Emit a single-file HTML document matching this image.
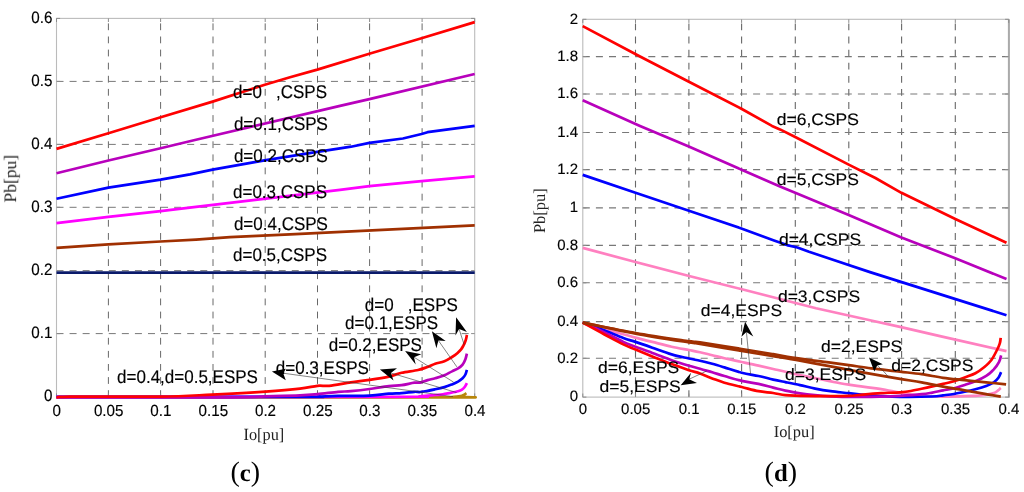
<!DOCTYPE html>
<html>
<head>
<meta charset="utf-8">
<title>Pb vs Io curves</title>
<style>
html, body { margin: 0; padding: 0; background: #ffffff; }
body { width: 1024px; height: 492px; overflow: hidden; font-family: "Liberation Sans", sans-serif; }
svg { display: block; }
</style>
</head>
<body>
<svg width="1024" height="492" viewBox="0 0 1024 492">
<rect x="0" y="0" width="1024" height="492" fill="#ffffff"/>
<g opacity="0.999" text-rendering="geometricPrecision">
<line x1="108.4" y1="397" x2="108.4" y2="18.4" stroke="#686868" stroke-width="1" stroke-dasharray="6.8 6.3"/>
<line x1="160.6" y1="397" x2="160.6" y2="18.4" stroke="#686868" stroke-width="1" stroke-dasharray="6.8 6.3"/>
<line x1="213" y1="397" x2="213" y2="18.4" stroke="#686868" stroke-width="1" stroke-dasharray="6.8 6.3"/>
<line x1="265.2" y1="397" x2="265.2" y2="18.4" stroke="#686868" stroke-width="1" stroke-dasharray="6.8 6.3"/>
<line x1="317.5" y1="397" x2="317.5" y2="18.4" stroke="#686868" stroke-width="1" stroke-dasharray="6.8 6.3"/>
<line x1="369.6" y1="397" x2="369.6" y2="18.4" stroke="#686868" stroke-width="1" stroke-dasharray="6.8 6.3"/>
<line x1="422.1" y1="397" x2="422.1" y2="18.4" stroke="#686868" stroke-width="1" stroke-dasharray="6.8 6.3"/>
<line x1="56.5" y1="81.4" x2="474.7" y2="81.4" stroke="#787878" stroke-width="1" stroke-dasharray="7 6.07"/>
<line x1="56.5" y1="144.4" x2="474.7" y2="144.4" stroke="#787878" stroke-width="1" stroke-dasharray="7 6.07"/>
<line x1="56.5" y1="207.3" x2="474.7" y2="207.3" stroke="#787878" stroke-width="1" stroke-dasharray="7 6.07"/>
<line x1="56.5" y1="270.6" x2="474.7" y2="270.6" stroke="#787878" stroke-width="1" stroke-dasharray="7 6.07"/>
<line x1="56.5" y1="333.6" x2="474.7" y2="333.6" stroke="#787878" stroke-width="1" stroke-dasharray="7 6.07"/>
<rect x="56.5" y="18.4" width="418.2" height="378.6" fill="none" stroke="#bbbbbb" stroke-width="1.1"/>
<path d="M56.5 18.4 v3.6 M56.5 397 v-3.6" stroke="#8c8c8c" stroke-width="1" fill="none"/>
<path d="M108.4 18.4 v3.6 M108.4 397 v-3.6" stroke="#8c8c8c" stroke-width="1" fill="none"/>
<path d="M160.6 18.4 v3.6 M160.6 397 v-3.6" stroke="#8c8c8c" stroke-width="1" fill="none"/>
<path d="M213 18.4 v3.6 M213 397 v-3.6" stroke="#8c8c8c" stroke-width="1" fill="none"/>
<path d="M265.2 18.4 v3.6 M265.2 397 v-3.6" stroke="#8c8c8c" stroke-width="1" fill="none"/>
<path d="M317.5 18.4 v3.6 M317.5 397 v-3.6" stroke="#8c8c8c" stroke-width="1" fill="none"/>
<path d="M369.6 18.4 v3.6 M369.6 397 v-3.6" stroke="#8c8c8c" stroke-width="1" fill="none"/>
<path d="M422.1 18.4 v3.6 M422.1 397 v-3.6" stroke="#8c8c8c" stroke-width="1" fill="none"/>
<path d="M474.7 18.4 v3.6 M474.7 397 v-3.6" stroke="#8c8c8c" stroke-width="1" fill="none"/>
<path d="M56.5 18.4 h3.6 M474.7 18.4 h-3.6" stroke="#8c8c8c" stroke-width="1" fill="none"/>
<path d="M56.5 81.4 h3.6 M474.7 81.4 h-3.6" stroke="#8c8c8c" stroke-width="1" fill="none"/>
<path d="M56.5 144.4 h3.6 M474.7 144.4 h-3.6" stroke="#8c8c8c" stroke-width="1" fill="none"/>
<path d="M56.5 207.3 h3.6 M474.7 207.3 h-3.6" stroke="#8c8c8c" stroke-width="1" fill="none"/>
<path d="M56.5 270.6 h3.6 M474.7 270.6 h-3.6" stroke="#8c8c8c" stroke-width="1" fill="none"/>
<path d="M56.5 333.6 h3.6 M474.7 333.6 h-3.6" stroke="#8c8c8c" stroke-width="1" fill="none"/>
<path d="M56.5 397 h3.6 M474.7 397 h-3.6" stroke="#8c8c8c" stroke-width="1" fill="none"/>
<path d="M56.5 148.9 L108.4 133.3 L160.7 117.3 L212.6 101.6 L264.8 84.8 L290 77.2 L317.3 69.6 L369.3 53.7 L421.5 38.2 L474.7 22.1" fill="none" stroke="#ff0000" stroke-width="2.7" stroke-linejoin="round" stroke-linecap="butt"/>
<path d="M56.5 173.3 L108.4 160.5 L160.6 148.2 L196 139.8 L340 105.9 L369.4 99.1 L474.7 74" fill="none" stroke="#b800bc" stroke-width="2.7" stroke-linejoin="round" stroke-linecap="butt"/>
<path d="M56.5 198.7 L108.4 187.6 L160.6 179.7 L190 174.4 L212.6 169.6 L264.5 160.4 L317.2 151.9 L340 148.3 L351 146.7 L369.4 142.9 L402.9 138.5 L421.6 134 L427.5 132.2 L474.7 125.9" fill="none" stroke="#0000ff" stroke-width="2.7" stroke-linejoin="round" stroke-linecap="butt"/>
<path d="M56.5 223.1 L108.4 216.9 L160.6 211.1 L196 206.8 L340 189.9 L369.4 186.2 L421.6 181.2 L474.7 176.4" fill="none" stroke="#ff00ff" stroke-width="2.7" stroke-linejoin="round" stroke-linecap="butt"/>
<path d="M56.5 247.8 L108.4 244.3 L160.6 241.5 L196 239.6 L230 237.2 L290 234.3 L474.7 225.4" fill="none" stroke="#a03000" stroke-width="2.7" stroke-linejoin="round" stroke-linecap="butt"/>
<path d="M56.5 272.7 L474.7 272.7" fill="none" stroke="#0a1a6a" stroke-width="2.7" stroke-linejoin="round" stroke-linecap="butt"/>
<path d="M56.5 397.4 C121.2 397.4 379.1 397.5 445 397.4 C510.9 397.3 449.7 397.2 452 397 C454.3 396.8 456.9 396.6 458.6 396.4 C460.3 396.2 461 396.1 462 395.8 C463 395.5 463.8 395 464.5 394.6 C465.2 394.2 466.1 393.4 466.4 393.2" fill="none" stroke="#b8860b" stroke-width="2.7" stroke-linejoin="round" stroke-linecap="butt"/>
<path d="M56.5 396.9 C112.9 396.9 334.4 397 395 396.9 C455.6 396.8 413.3 396.6 420 396.3 C426.7 396 431.4 395.3 435.2 395 C439 394.7 440.2 394.7 442.8 394.3 C445.4 393.9 447.9 393.3 450.5 392.8 C453.1 392.3 456.2 391.7 458.1 391.2 C460 390.7 460.8 390.4 461.9 389.7 C463 388.9 464.1 387.8 464.9 386.7 C465.7 385.6 466.6 383.8 466.9 383.2" fill="none" stroke="#ff00ff" stroke-width="2.7" stroke-linejoin="round" stroke-linecap="butt"/>
<path d="M56.5 396.9 C97.1 396.9 256.2 396.9 300 396.9 C343.8 396.8 312.6 396.8 319 396.6 C325.4 396.4 329.7 396 338.1 395.9 C346.5 395.8 361.1 396.1 369.6 395.7 C378.1 395.3 383.6 394.1 388.9 393.7 C394.2 393.3 397.4 393.4 401.6 393.1 C405.8 392.8 411.2 392 414.3 391.8 C417.4 391.6 417.8 392.2 420 392 C422.2 391.8 425.1 391.2 427.6 390.8 C430.1 390.4 432.4 389.9 435.2 389.3 C438 388.7 441.6 387.9 444.4 387.1 C447.2 386.3 449.7 385.3 452 384.4 C454.3 383.5 456.3 382.6 458.1 381.6 C459.9 380.6 461.4 379.5 462.6 378.3 C463.8 377.1 464.7 375.9 465.4 374.5 C466.1 373.1 466.6 370.7 466.9 369.9" fill="none" stroke="#0000ff" stroke-width="2.7" stroke-linejoin="round" stroke-linecap="butt"/>
<path d="M56.5 397.3 C85.4 397.3 195.2 397.5 230 397.3 C264.8 397.1 253.3 396.7 265 396.4 C276.7 396.1 291.2 395.8 300 395.4 C308.8 395 311.1 394.7 317.5 394.1 C323.9 393.5 332.6 392.3 338.1 391.8 C343.7 391.3 345.6 391.7 350.8 391.2 C356.1 390.7 363.2 389.9 369.6 389 C376 388.1 383.6 386.7 388.9 386.1 C394.2 385.5 397.4 385.8 401.6 385.2 C405.8 384.6 411.2 383.1 414.3 382.7 C417.4 382.3 417.8 383 420 382.6 C422.2 382.2 425.1 380.8 427.6 380.1 C430.1 379.4 432.4 379.1 435.2 378.3 C438 377.5 441.6 376.5 444.4 375.3 C447.2 374.1 449.7 372.5 452 371.4 C454.3 370.2 456.3 369.5 458.1 368.4 C459.9 367.3 461.4 366.1 462.6 364.6 C463.8 363.1 464.7 361.1 465.4 359.3 C466.1 357.5 466.6 354.6 466.9 353.6" fill="none" stroke="#b800bc" stroke-width="2.7" stroke-linejoin="round" stroke-linecap="butt"/>
<path d="M56.5 397.6 C58.8 397.4 52.8 396.8 70 396.6 C87.2 396.4 136.3 396.9 160 396.6 C183.7 396.3 194.4 395.4 212 394.6 C229.6 393.8 250.9 392.7 265.6 391.7 C280.3 390.7 291.4 389.7 300 388.7 C308.6 387.7 312.6 386.3 317.5 385.8 C322.4 385.3 323.6 386.4 329.2 385.8 C334.8 385.2 344.1 383.3 350.8 382.3 C357.5 381.3 363.2 380.8 369.6 379.8 C376 378.9 383.6 377.8 388.9 376.6 C394.2 375.4 396.7 373.9 401.6 372.8 C406.5 371.7 413.8 371 418.1 370 C422.4 369 424.8 367.9 427.6 366.9 C430.5 365.9 432.4 364.8 435.2 363.8 C438 362.9 441.6 362.3 444.4 361.2 C447.2 360.1 449.9 358.3 452 357 C454.1 355.7 455.8 354.5 457.3 353.2 C458.8 351.9 460.1 350.7 461.1 349.4 C462.1 348.1 462.6 347.1 463.4 345.6 C464.2 344.1 465.1 342 465.7 340.2 C466.3 338.4 466.7 335.8 466.9 334.9" fill="none" stroke="#ff0000" stroke-width="2.7" stroke-linejoin="round" stroke-linecap="butt"/>
<line x1="459.1" y1="329.1" x2="464.2" y2="344.8" stroke="#333" stroke-width="0.6"/>
<path d="M456.1 317.3 L466.9 332 L459.1 329.1 L455.5 335.6 Z" fill="#000"/>
<line x1="438.4" y1="340.5" x2="456.9" y2="366.9" stroke="#333" stroke-width="0.6"/>
<path d="M431.9 331.3 L445.7 340.9 L438.4 340.5 L436.4 348.2 Z" fill="#000"/>
<line x1="414" y1="357.2" x2="453.5" y2="382.1" stroke="#333" stroke-width="0.6"/>
<path d="M405.1 350.9 L421.3 354.3 L414 357.2 L415.7 364.5 Z" fill="#000"/>
<line x1="390.9" y1="373" x2="456.5" y2="392.5" stroke="#333" stroke-width="0.6"/>
<path d="M379.9 369.4 L397 368.2 L390.9 373 L393.5 380.4 Z" fill="#000"/>
<line x1="283.2" y1="373.2" x2="453" y2="396.6" stroke="#333" stroke-width="0.6"/>
<path d="M271.9 371.6 L285.8 368.8 L283.2 373.2 L285.8 380.3 Z" fill="#000"/>
<text transform="translate(233,97.7) scale(1,1.08)" font-family="'Liberation Sans', sans-serif" font-size="17" text-anchor="start" font-weight="normal" fill="#000" stroke="#000" stroke-width="0.15" >d=0&#160;&#160;&#160;,CSPS</text>
<text transform="translate(233.9,129.7) scale(1,1.08)" font-family="'Liberation Sans', sans-serif" font-size="17" text-anchor="start" font-weight="normal" fill="#000" stroke="#000" stroke-width="0.15" >d=0.1,CSPS</text>
<text transform="translate(233.9,161.7) scale(1,1.08)" font-family="'Liberation Sans', sans-serif" font-size="17" text-anchor="start" font-weight="normal" fill="#000" stroke="#000" stroke-width="0.15" >d=0.2,CSPS</text>
<text transform="translate(233,197.7) scale(1,1.08)" font-family="'Liberation Sans', sans-serif" font-size="17" text-anchor="start" font-weight="normal" fill="#000" stroke="#000" stroke-width="0.15" >d=0.3,CSPS</text>
<text transform="translate(233.9,229.7) scale(1,1.08)" font-family="'Liberation Sans', sans-serif" font-size="17" text-anchor="start" font-weight="normal" fill="#000" stroke="#000" stroke-width="0.15" >d=0.4,CSPS</text>
<text transform="translate(233,260.7) scale(1,1.08)" font-family="'Liberation Sans', sans-serif" font-size="17" text-anchor="start" font-weight="normal" fill="#000" stroke="#000" stroke-width="0.15" >d=0.5,CSPS</text>
<text transform="translate(364.8,311.3) scale(1,1.08)" font-family="'Liberation Sans', sans-serif" font-size="17" text-anchor="start" font-weight="normal" fill="#000" stroke="#000" stroke-width="0.15" >d=0&#160;&#160;&#160;,ESPS</text>
<text transform="translate(345.1,329) scale(1,1.08)" font-family="'Liberation Sans', sans-serif" font-size="17" text-anchor="start" font-weight="normal" fill="#000" stroke="#000" stroke-width="0.15" >d=0.1,ESPS</text>
<text transform="translate(328.8,351.3) scale(1,1.08)" font-family="'Liberation Sans', sans-serif" font-size="17" text-anchor="start" font-weight="normal" fill="#000" stroke="#000" stroke-width="0.15" >d=0.2,ESPS</text>
<text transform="translate(275.8,373.6) scale(1,1.08)" font-family="'Liberation Sans', sans-serif" font-size="17" text-anchor="start" font-weight="normal" fill="#000" stroke="#000" stroke-width="0.15" >d=0.3,ESPS</text>
<text transform="translate(117.1,383.1) scale(1,1.08)" font-family="'Liberation Sans', sans-serif" font-size="17" text-anchor="start" font-weight="normal" fill="#000" stroke="#000" stroke-width="0.15" >d=0.4,d=0.5,ESPS</text>
<text transform="translate(56.8,415.8) scale(1,1.05)" font-family="'Liberation Sans', sans-serif" font-size="15.2" text-anchor="middle" font-weight="normal" fill="#000" stroke="#000" stroke-width="0.15" >0</text>
<text transform="translate(108.7,415.8) scale(1,1.05)" font-family="'Liberation Sans', sans-serif" font-size="15.2" text-anchor="middle" font-weight="normal" fill="#000" stroke="#000" stroke-width="0.15" >0.05</text>
<text transform="translate(160.9,415.8) scale(1,1.05)" font-family="'Liberation Sans', sans-serif" font-size="15.2" text-anchor="middle" font-weight="normal" fill="#000" stroke="#000" stroke-width="0.15" >0.1</text>
<text transform="translate(213.3,415.8) scale(1,1.05)" font-family="'Liberation Sans', sans-serif" font-size="15.2" text-anchor="middle" font-weight="normal" fill="#000" stroke="#000" stroke-width="0.15" >0.15</text>
<text transform="translate(265.5,415.8) scale(1,1.05)" font-family="'Liberation Sans', sans-serif" font-size="15.2" text-anchor="middle" font-weight="normal" fill="#000" stroke="#000" stroke-width="0.15" >0.2</text>
<text transform="translate(317.8,415.8) scale(1,1.05)" font-family="'Liberation Sans', sans-serif" font-size="15.2" text-anchor="middle" font-weight="normal" fill="#000" stroke="#000" stroke-width="0.15" >0.25</text>
<text transform="translate(369.9,415.8) scale(1,1.05)" font-family="'Liberation Sans', sans-serif" font-size="15.2" text-anchor="middle" font-weight="normal" fill="#000" stroke="#000" stroke-width="0.15" >0.3</text>
<text transform="translate(422.4,415.8) scale(1,1.05)" font-family="'Liberation Sans', sans-serif" font-size="15.2" text-anchor="middle" font-weight="normal" fill="#000" stroke="#000" stroke-width="0.15" >0.35</text>
<text transform="translate(475,415.8) scale(1,1.05)" font-family="'Liberation Sans', sans-serif" font-size="15.2" text-anchor="middle" font-weight="normal" fill="#000" stroke="#000" stroke-width="0.15" >0.4</text>
<text transform="translate(52.4,22.6) scale(1,1.08)" font-family="'Liberation Sans', sans-serif" font-size="15.2" text-anchor="end" font-weight="normal" fill="#000" stroke="#000" stroke-width="0.15" >0.6</text>
<text transform="translate(52.4,85.6) scale(1,1.08)" font-family="'Liberation Sans', sans-serif" font-size="15.2" text-anchor="end" font-weight="normal" fill="#000" stroke="#000" stroke-width="0.15" >0.5</text>
<text transform="translate(52.4,148.6) scale(1,1.08)" font-family="'Liberation Sans', sans-serif" font-size="15.2" text-anchor="end" font-weight="normal" fill="#000" stroke="#000" stroke-width="0.15" >0.4</text>
<text transform="translate(52.4,211.5) scale(1,1.08)" font-family="'Liberation Sans', sans-serif" font-size="15.2" text-anchor="end" font-weight="normal" fill="#000" stroke="#000" stroke-width="0.15" >0.3</text>
<text transform="translate(52.4,274.8) scale(1,1.08)" font-family="'Liberation Sans', sans-serif" font-size="15.2" text-anchor="end" font-weight="normal" fill="#000" stroke="#000" stroke-width="0.15" >0.2</text>
<text transform="translate(52.4,337.8) scale(1,1.08)" font-family="'Liberation Sans', sans-serif" font-size="15.2" text-anchor="end" font-weight="normal" fill="#000" stroke="#000" stroke-width="0.15" >0.1</text>
<text transform="translate(52.4,401.2) scale(1,1.08)" font-family="'Liberation Sans', sans-serif" font-size="15.2" text-anchor="end" font-weight="normal" fill="#000" stroke="#000" stroke-width="0.15" >0</text>
<text transform="translate(263.9,439.7) scale(1,1.05)" font-family="'Liberation Serif', serif" font-size="16.3" text-anchor="middle" fill="#222">Io[pu]</text>
<text transform="translate(16.1,178.7) rotate(-90)" font-family="'Liberation Serif', serif" font-size="17.5" text-anchor="middle" fill="#222">Pb[pu]</text>
<text x="245.2" y="481" font-family="'Liberation Serif', serif" font-size="28" text-anchor="middle" fill="#000">(<tspan font-weight="bold" font-size="24.7">c</tspan>)</text>
<line x1="635.5" y1="397.1" x2="635.5" y2="19.3" stroke="#686868" stroke-width="1.1" stroke-dasharray="6.8 6.3"/>
<line x1="688.9" y1="397.1" x2="688.9" y2="19.3" stroke="#686868" stroke-width="1.1" stroke-dasharray="6.8 6.3"/>
<line x1="741.6" y1="397.1" x2="741.6" y2="19.3" stroke="#686868" stroke-width="1.1" stroke-dasharray="6.8 6.3"/>
<line x1="795.3" y1="397.1" x2="795.3" y2="19.3" stroke="#686868" stroke-width="1.1" stroke-dasharray="6.8 6.3"/>
<line x1="848.8" y1="397.1" x2="848.8" y2="19.3" stroke="#686868" stroke-width="1.1" stroke-dasharray="6.8 6.3"/>
<line x1="901.6" y1="397.1" x2="901.6" y2="19.3" stroke="#686868" stroke-width="1.1" stroke-dasharray="6.8 6.3"/>
<line x1="955.3" y1="397.1" x2="955.3" y2="19.3" stroke="#686868" stroke-width="1.1" stroke-dasharray="6.8 6.3"/>
<line x1="582.8" y1="56.6" x2="1008.7" y2="56.6" stroke="#787878" stroke-width="1.1" stroke-dasharray="7 6.1"/>
<line x1="582.8" y1="94" x2="1008.7" y2="94" stroke="#787878" stroke-width="1.1" stroke-dasharray="7 6.1"/>
<line x1="582.8" y1="132.5" x2="1008.7" y2="132.5" stroke="#787878" stroke-width="1.1" stroke-dasharray="7 6.1"/>
<line x1="582.8" y1="169.6" x2="1008.7" y2="169.6" stroke="#787878" stroke-width="1.1" stroke-dasharray="7 6.1"/>
<line x1="582.8" y1="207.9" x2="1008.7" y2="207.9" stroke="#787878" stroke-width="1.1" stroke-dasharray="7 6.1"/>
<line x1="582.8" y1="245.4" x2="1008.7" y2="245.4" stroke="#787878" stroke-width="1.1" stroke-dasharray="7 6.1"/>
<line x1="582.8" y1="282.8" x2="1008.7" y2="282.8" stroke="#787878" stroke-width="1.1" stroke-dasharray="7 6.1"/>
<line x1="582.8" y1="321.6" x2="1008.7" y2="321.6" stroke="#787878" stroke-width="1.1" stroke-dasharray="7 6.1"/>
<line x1="582.8" y1="358.3" x2="1008.7" y2="358.3" stroke="#787878" stroke-width="1.1" stroke-dasharray="7 6.1"/>
<rect x="582.8" y="19.3" width="425.9" height="377.8" fill="none" stroke="#bbbbbb" stroke-width="1.1"/>
<rect x="1007.9" y="19.3" width="2" height="378.3" fill="#aaaaaa"/>
<path d="M582.8 19.3 v3.6 M582.8 397.1 v-3.6" stroke="#8c8c8c" stroke-width="1" fill="none"/>
<path d="M635.5 19.3 v3.6 M635.5 397.1 v-3.6" stroke="#8c8c8c" stroke-width="1" fill="none"/>
<path d="M688.9 19.3 v3.6 M688.9 397.1 v-3.6" stroke="#8c8c8c" stroke-width="1" fill="none"/>
<path d="M741.6 19.3 v3.6 M741.6 397.1 v-3.6" stroke="#8c8c8c" stroke-width="1" fill="none"/>
<path d="M795.3 19.3 v3.6 M795.3 397.1 v-3.6" stroke="#8c8c8c" stroke-width="1" fill="none"/>
<path d="M848.8 19.3 v3.6 M848.8 397.1 v-3.6" stroke="#8c8c8c" stroke-width="1" fill="none"/>
<path d="M901.6 19.3 v3.6 M901.6 397.1 v-3.6" stroke="#8c8c8c" stroke-width="1" fill="none"/>
<path d="M955.3 19.3 v3.6 M955.3 397.1 v-3.6" stroke="#8c8c8c" stroke-width="1" fill="none"/>
<path d="M1008.7 19.3 v3.6 M1008.7 397.1 v-3.6" stroke="#8c8c8c" stroke-width="1" fill="none"/>
<path d="M582.8 19.3 h3.6 M1008.7 19.3 h-3.6" stroke="#8c8c8c" stroke-width="1" fill="none"/>
<path d="M582.8 56.6 h3.6 M1008.7 56.6 h-3.6" stroke="#8c8c8c" stroke-width="1" fill="none"/>
<path d="M582.8 94 h3.6 M1008.7 94 h-3.6" stroke="#8c8c8c" stroke-width="1" fill="none"/>
<path d="M582.8 132.5 h3.6 M1008.7 132.5 h-3.6" stroke="#8c8c8c" stroke-width="1" fill="none"/>
<path d="M582.8 169.6 h3.6 M1008.7 169.6 h-3.6" stroke="#8c8c8c" stroke-width="1" fill="none"/>
<path d="M582.8 207.9 h3.6 M1008.7 207.9 h-3.6" stroke="#8c8c8c" stroke-width="1" fill="none"/>
<path d="M582.8 245.4 h3.6 M1008.7 245.4 h-3.6" stroke="#8c8c8c" stroke-width="1" fill="none"/>
<path d="M582.8 282.8 h3.6 M1008.7 282.8 h-3.6" stroke="#8c8c8c" stroke-width="1" fill="none"/>
<path d="M582.8 321.6 h3.6 M1008.7 321.6 h-3.6" stroke="#8c8c8c" stroke-width="1" fill="none"/>
<path d="M582.8 358.3 h3.6 M1008.7 358.3 h-3.6" stroke="#8c8c8c" stroke-width="1" fill="none"/>
<path d="M582.8 397.1 h3.6 M1008.7 397.1 h-3.6" stroke="#8c8c8c" stroke-width="1" fill="none"/>
<path d="M582.7 26.1 L640 56.5 L688.9 81.8 L741.4 108.8 L772 125.9 L780 129.4 L795.2 137 L848.7 164.6 L875.4 178 L901.4 192.8 L955.3 219 L1006.5 242.8" fill="none" stroke="#ff0000" stroke-width="2.7" stroke-linejoin="round" stroke-linecap="butt"/>
<path d="M582.7 100.2 L640 125.9 L688.8 146.6 L741.6 169.7 L780 186.6 L795.2 192.8 L848.7 214.9 L901.4 237.5 L954.6 258 L1006.5 279" fill="none" stroke="#b800bc" stroke-width="2.7" stroke-linejoin="round" stroke-linecap="butt"/>
<path d="M582.7 174.9 L635.5 192.8 L688.9 210.8 L740 228 L774 240.4 L787 245.1 L797.4 247.5 L809 251.8 L870 272.1 L1006.5 315.2" fill="none" stroke="#0000ff" stroke-width="2.7" stroke-linejoin="round" stroke-linecap="butt"/>
<path d="M582.7 247.9 L635.5 262 L689.1 276 L740 288.8 L816 308.2 L870 320.2 L900 326.9 L940 336.1 L1006.5 351.1" fill="none" stroke="#ff80c0" stroke-width="2.7" stroke-linejoin="round" stroke-linecap="butt"/>
<path d="M582.7 322.6 C586.2 323.7 597.2 327 604 328.9 C610.8 330.8 618 332.8 623.3 334.2 C628.5 335.6 630.7 336.3 635.5 337.6 C640.3 338.9 646.3 340.4 652.3 341.9 C658.3 343.4 665.5 345.3 671.6 346.7 C677.7 348.1 684.3 349.1 689 350 C693.7 350.9 696.1 351.3 700 352.2 C703.9 353.1 708.1 354.2 712.2 355.2 C716.3 356.2 719.5 357.2 724.4 358.3 C729.3 359.4 736 360.8 741.7 362 C747.4 363.2 753.2 364.4 758.5 365.6 C763.8 366.8 768.7 368 773.2 369 C777.7 370 781.7 370.8 785.4 371.7 C789.1 372.6 789.4 372.9 795.5 374.2 C801.6 375.5 815.7 378.2 822 379.5 C828.3 380.8 829 381.1 833.5 382 C838 382.9 844.2 383.9 848.8 384.6 C853.4 385.3 856.4 385.8 861 386.4 C865.6 387 872 387.8 876.2 388.4 C880.4 389 882.4 389.4 886.4 390.1 C890.4 390.8 895.2 391.8 900 392.6 C904.8 393.4 907.8 394.3 915 395 C922.2 395.7 932.9 396.6 943 396.7 C953.1 396.8 968.2 396.1 975.4 395.8 C982.6 395.5 983.1 395.1 986.2 394.7 C989.3 394.2 991.8 393.8 993.8 393.1 C995.8 392.4 996.9 391.3 998.1 390.4 C999.3 389.5 1000.3 388.3 1000.8 387.9" fill="none" stroke="#ff80c0" stroke-width="2.7" stroke-linejoin="round" stroke-linecap="butt"/>
<path d="M582.7 322.6 C586.2 323.9 597.2 327.7 604 330.3 C610.8 332.9 618 336.1 623.3 338 C628.5 339.9 630.7 340.3 635.5 341.9 C640.3 343.5 646.3 345.6 652.3 347.7 C658.3 349.8 665.5 352.6 671.6 354.4 C677.7 356.2 684.3 357.4 689 358.5 C693.7 359.6 696.1 359.8 700 360.7 C703.9 361.6 708.1 362.7 712.2 363.8 C716.3 364.9 719.5 365.9 724.4 367.4 C729.3 368.9 736 371.3 741.7 372.7 C747.4 374.1 753.2 374.9 758.5 376 C763.8 377.1 768.7 378.6 773.2 379.6 C777.7 380.6 780.9 381.2 785.4 382.1 C789.9 383 795 384 800 385.1 C805 386.2 810.1 387.6 815.2 388.6 C820.3 389.6 824.9 390.4 830.5 391.2 C836.1 392 843.7 392.6 848.8 393.2 C853.9 393.8 855.8 394 861 394.5 C866.2 395 873.5 395.6 880 396 C886.5 396.4 891.3 396.8 900 396.9 C908.7 397 925.1 396.8 932.3 396.5 C939.5 396.2 939.5 395.7 943.1 395.3 C946.7 394.9 950.3 394.6 953.9 394 C957.5 393.4 961.1 392.6 964.7 391.8 C968.3 391 971.8 390.2 975.4 389.3 C979 388.4 983.1 387.3 986.2 386.1 C989.3 384.9 991.7 383.7 993.8 382.3 C995.9 380.9 997.4 379.2 998.6 377.5 C999.8 375.8 1000.7 373 1001.1 372.1" fill="none" stroke="#0000ff" stroke-width="2.7" stroke-linejoin="round" stroke-linecap="butt"/>
<path d="M582.7 322.6 C586.2 324.2 597.2 329 604 332.2 C610.8 335.4 618 339.5 623.3 341.9 C628.5 344.3 630.7 344.9 635.5 346.7 C640.3 348.5 646.3 350.6 652.3 352.9 C658.3 355.1 665.5 358 671.6 360.2 C677.7 362.4 684.3 364.4 689 365.8 C693.7 367.2 696.1 367.6 700 368.7 C703.9 369.8 708.1 371.1 712.2 372.3 C716.3 373.5 719.5 374.6 724.4 376 C729.3 377.4 736 379.6 741.7 380.9 C747.4 382.2 753.2 382.8 758.5 383.9 C763.8 385 768.7 386.5 773.2 387.6 C777.7 388.7 780.9 389.7 785.4 390.6 C789.9 391.6 795.1 392.5 800 393.3 C804.9 394.1 809.9 394.7 815 395.2 C820.1 395.7 823.8 396 830.5 396.3 C837.2 396.6 846.8 396.8 855 396.8 C863.2 396.9 872.5 396.8 880 396.6 C887.5 396.5 893.1 396.3 900 395.9 C906.9 395.5 916.2 394.8 921.6 394.2 C927 393.6 928.7 393.2 932.3 392.6 C935.9 392 939.5 391.1 943.1 390.4 C946.7 389.7 950.3 389.2 953.9 388.3 C957.5 387.4 961.1 386.2 964.7 385 C968.3 383.8 971.8 382.8 975.4 381.3 C979 379.8 983.1 377.9 986.2 375.9 C989.3 373.9 991.6 371.7 993.8 369.4 C995.9 367.1 997.9 364.2 999.1 361.9 C1000.3 359.6 1000.8 356.5 1001.1 355.4" fill="none" stroke="#b800bc" stroke-width="2.7" stroke-linejoin="round" stroke-linecap="butt"/>
<path d="M582.7 322.6 C586.2 324.5 597.2 330.6 604 334.2 C610.8 337.8 618 341.8 623.3 344.4 C628.5 347 630.7 347.6 635.5 349.6 C640.3 351.6 646.3 354 652.3 356.4 C658.3 358.8 665.5 361.8 671.6 364.1 C677.7 366.4 684.3 368.6 689 370.2 C693.7 371.8 696.1 372.1 700 373.5 C703.9 374.9 708.1 376.9 712.2 378.4 C716.3 379.9 719.5 381.3 724.4 382.7 C729.3 384.1 736 385.6 741.7 387 C747.4 388.4 753.2 390.2 758.5 391.2 C763.8 392.2 768.7 392.3 773.2 393 C777.7 393.7 780.9 394.7 785.4 395.2 C789.9 395.7 792.5 395.6 800 395.8 C807.5 396 822.4 396.2 830.5 396.2 C838.6 396.2 843.4 396.1 848.8 395.9 C854.2 395.6 857.6 395.1 863 394.7 C868.4 394.2 875.1 393.6 881.3 393.2 C887.5 392.8 895.1 392.7 900 392.3 C904.9 391.9 907.2 391.6 910.8 391 C914.4 390.4 918 389.6 921.6 388.8 C925.2 388 928.7 387.2 932.3 386.4 C935.9 385.6 939.5 384.8 943.1 383.9 C946.7 383 950.3 382.4 953.9 381.3 C957.5 380.2 961.1 378.9 964.7 377.5 C968.3 376.1 972.2 374.9 975.4 373.2 C978.6 371.5 981.4 369.4 984.1 367.2 C986.8 364.9 989.5 362.6 991.6 359.7 C993.8 356.8 995.6 352.7 997 350 C998.4 347.3 999.2 345.3 999.8 343.3 C1000.4 341.3 1000.6 338.7 1000.7 337.8" fill="none" stroke="#ff0000" stroke-width="2.7" stroke-linejoin="round" stroke-linecap="butt"/>
<path d="M582.7 322.6 C591.5 324.3 617.8 329.9 635.5 333 C653.2 336.1 678.2 339.6 689 341.2 C699.8 342.8 691.2 341 700 342.3 C708.8 343.6 729.5 347 741.7 349 C753.9 351 763.5 352.6 773.2 354.2 C782.9 355.8 790.5 357.2 800 358.6 C809.5 360 822.4 361.6 830.5 362.7 C838.6 363.8 842 364.3 848.8 365.2 C855.6 366.1 862.6 367.2 871.1 368.3 C879.6 369.4 891.6 370.6 900 371.6 C908.4 372.6 914.4 373.2 921.6 374.2 C928.8 375.2 935.9 376.8 943.1 377.8 C950.3 378.8 957.5 379.4 964.7 380.2 C971.9 380.9 979.3 381.6 986.2 382.3 C993.1 383 1002.8 384 1006.1 384.3" fill="none" stroke="#a03000" stroke-width="2.7" stroke-linejoin="round" stroke-linecap="butt"/>
<path d="M582.7 322.6 C591.5 324.4 617.8 330.3 635.5 333.6 C653.2 336.9 678.2 340.7 689 342.4 C699.8 344.1 691.2 342.4 700 343.8 C708.8 345.2 729.5 348.9 741.7 351 C753.9 353.1 763.5 354.6 773.2 356.2 C782.9 357.8 790.5 359 800 360.7 C809.5 362.4 822.4 364.8 830.5 366.3 C838.6 367.8 842 368.5 848.8 369.8 C855.6 371.1 862.6 372.4 871.1 373.9 C879.6 375.4 891.6 377.5 900 378.9 C908.4 380.3 914.4 381 921.6 382.3 C928.8 383.6 935.9 385.2 943.1 386.6 C950.3 388 957.5 389.1 964.7 390.4 C971.9 391.7 980.2 393.2 986.2 394.2 C992.2 395.2 998.4 396.2 1000.8 396.6" fill="none" stroke="#a03000" stroke-width="2.7" stroke-linejoin="round" stroke-linecap="butt"/>
<line x1="689.2" y1="379.2" x2="706.6" y2="371" stroke="#333" stroke-width="0.6"/>
<path d="M680.7 385.2 L691 372.8 L689.2 379.2 L697 382.9 Z" fill="#000"/>
<line x1="746.4" y1="331.9" x2="750.6" y2="374.1" stroke="#333" stroke-width="0.6"/>
<path d="M745.1 321.7 L741.4 336.8 L746.4 331.9 L753.3 336.5 Z" fill="#000"/>
<path d="M877.2 365.4 Q884 371 889.4 378" fill="none" stroke="#333" stroke-width="0.6"/>
<path d="M869 357.4 L882.8 364.3 L877.2 365.4 L874.3 371.6 Z" fill="#000"/>
<text transform="translate(776.7,125.2) scale(1.055,1.0001)" font-family="'Liberation Sans', sans-serif" font-size="16.6" text-anchor="start" font-weight="normal" fill="#000" stroke="#000" stroke-width="0.15" >d=6,CSPS</text>
<text transform="translate(776.7,185.2) scale(1.055,1.0001)" font-family="'Liberation Sans', sans-serif" font-size="16.6" text-anchor="start" font-weight="normal" fill="#000" stroke="#000" stroke-width="0.15" >d=5,CSPS</text>
<text transform="translate(778.9,245.3) scale(1.055,1.0001)" font-family="'Liberation Sans', sans-serif" font-size="16.6" text-anchor="start" font-weight="normal" fill="#000" stroke="#000" stroke-width="0.15" >d=4,CSPS</text>
<text transform="translate(777.9,302.3) scale(1.055,1.0001)" font-family="'Liberation Sans', sans-serif" font-size="16.6" text-anchor="start" font-weight="normal" fill="#000" stroke="#000" stroke-width="0.15" >d=3,CSPS</text>
<text transform="translate(700.8,316) scale(1.055,1.0001)" font-family="'Liberation Sans', sans-serif" font-size="16.6" text-anchor="start" font-weight="normal" fill="#000" stroke="#000" stroke-width="0.15" >d=4,ESPS</text>
<text transform="translate(821,351.9) scale(1.055,1.0001)" font-family="'Liberation Sans', sans-serif" font-size="16.6" text-anchor="start" font-weight="normal" fill="#000" stroke="#000" stroke-width="0.15" >d=2,ESPS</text>
<text transform="translate(785,380) scale(1.055,1.0001)" font-family="'Liberation Sans', sans-serif" font-size="16.6" text-anchor="start" font-weight="normal" fill="#000" stroke="#000" stroke-width="0.15" >d=3,ESPS</text>
<text transform="translate(891.2,371.3) scale(1.055,1.0001)" font-family="'Liberation Sans', sans-serif" font-size="16.6" text-anchor="start" font-weight="normal" fill="#000" stroke="#000" stroke-width="0.15" >d=2,CSPS</text>
<text transform="translate(598,373.2) scale(1.055,1.0001)" font-family="'Liberation Sans', sans-serif" font-size="16.6" text-anchor="start" font-weight="normal" fill="#000" stroke="#000" stroke-width="0.15" >d=6,ESPS</text>
<text transform="translate(599.5,392.1) scale(1.055,1.0001)" font-family="'Liberation Sans', sans-serif" font-size="16.6" text-anchor="start" font-weight="normal" fill="#000" stroke="#000" stroke-width="0.15" >d=5,ESPS</text>
<text x="583" y="414.3" font-family="'Liberation Sans', sans-serif" font-size="15.0" text-anchor="middle" font-weight="normal" fill="#000" stroke="#000" stroke-width="0.15" >0</text>
<text x="635.7" y="414.3" font-family="'Liberation Sans', sans-serif" font-size="15.0" text-anchor="middle" font-weight="normal" fill="#000" stroke="#000" stroke-width="0.15" >0.05</text>
<text x="689.1" y="414.3" font-family="'Liberation Sans', sans-serif" font-size="15.0" text-anchor="middle" font-weight="normal" fill="#000" stroke="#000" stroke-width="0.15" >0.1</text>
<text x="741.8" y="414.3" font-family="'Liberation Sans', sans-serif" font-size="15.0" text-anchor="middle" font-weight="normal" fill="#000" stroke="#000" stroke-width="0.15" >0.15</text>
<text x="795.5" y="414.3" font-family="'Liberation Sans', sans-serif" font-size="15.0" text-anchor="middle" font-weight="normal" fill="#000" stroke="#000" stroke-width="0.15" >0.2</text>
<text x="849" y="414.3" font-family="'Liberation Sans', sans-serif" font-size="15.0" text-anchor="middle" font-weight="normal" fill="#000" stroke="#000" stroke-width="0.15" >0.25</text>
<text x="901.8" y="414.3" font-family="'Liberation Sans', sans-serif" font-size="15.0" text-anchor="middle" font-weight="normal" fill="#000" stroke="#000" stroke-width="0.15" >0.3</text>
<text x="955.5" y="414.3" font-family="'Liberation Sans', sans-serif" font-size="15.0" text-anchor="middle" font-weight="normal" fill="#000" stroke="#000" stroke-width="0.15" >0.35</text>
<text x="1008.9" y="414.3" font-family="'Liberation Sans', sans-serif" font-size="15.0" text-anchor="middle" font-weight="normal" fill="#000" stroke="#000" stroke-width="0.15" >0.4</text>
<text x="578" y="23.5" font-family="'Liberation Sans', sans-serif" font-size="15.0" text-anchor="end" font-weight="normal" fill="#000" stroke="#000" stroke-width="0.15" >2</text>
<text x="578" y="60.8" font-family="'Liberation Sans', sans-serif" font-size="15.0" text-anchor="end" font-weight="normal" fill="#000" stroke="#000" stroke-width="0.15" >1.8</text>
<text x="578" y="98.2" font-family="'Liberation Sans', sans-serif" font-size="15.0" text-anchor="end" font-weight="normal" fill="#000" stroke="#000" stroke-width="0.15" >1.6</text>
<text x="578" y="136.7" font-family="'Liberation Sans', sans-serif" font-size="15.0" text-anchor="end" font-weight="normal" fill="#000" stroke="#000" stroke-width="0.15" >1.4</text>
<text x="578" y="173.8" font-family="'Liberation Sans', sans-serif" font-size="15.0" text-anchor="end" font-weight="normal" fill="#000" stroke="#000" stroke-width="0.15" >1.2</text>
<text x="578" y="212.1" font-family="'Liberation Sans', sans-serif" font-size="15.0" text-anchor="end" font-weight="normal" fill="#000" stroke="#000" stroke-width="0.15" >1</text>
<text x="578" y="249.6" font-family="'Liberation Sans', sans-serif" font-size="15.0" text-anchor="end" font-weight="normal" fill="#000" stroke="#000" stroke-width="0.15" >0.8</text>
<text x="578" y="287" font-family="'Liberation Sans', sans-serif" font-size="15.0" text-anchor="end" font-weight="normal" fill="#000" stroke="#000" stroke-width="0.15" >0.6</text>
<text x="578" y="325.8" font-family="'Liberation Sans', sans-serif" font-size="15.0" text-anchor="end" font-weight="normal" fill="#000" stroke="#000" stroke-width="0.15" >0.4</text>
<text x="578" y="362.5" font-family="'Liberation Sans', sans-serif" font-size="15.0" text-anchor="end" font-weight="normal" fill="#000" stroke="#000" stroke-width="0.15" >0.2</text>
<text x="578" y="401.3" font-family="'Liberation Sans', sans-serif" font-size="15.0" text-anchor="end" font-weight="normal" fill="#000" stroke="#000" stroke-width="0.15" >0</text>
<text x="794.2" y="437.0" font-family="'Liberation Serif', serif" font-size="16.4" text-anchor="middle" fill="#222">Io[pu]</text>
<text transform="translate(545.2,210.6) rotate(-90)" font-family="'Liberation Serif', serif" font-size="16.5" text-anchor="middle" fill="#222">Pb[pu]</text>
<text x="780.8" y="481" font-family="'Liberation Serif', serif" font-size="28" text-anchor="middle" fill="#000">(<tspan font-weight="bold" font-size="24.7">d</tspan>)</text>
</g>
</svg>
</body>
</html>
